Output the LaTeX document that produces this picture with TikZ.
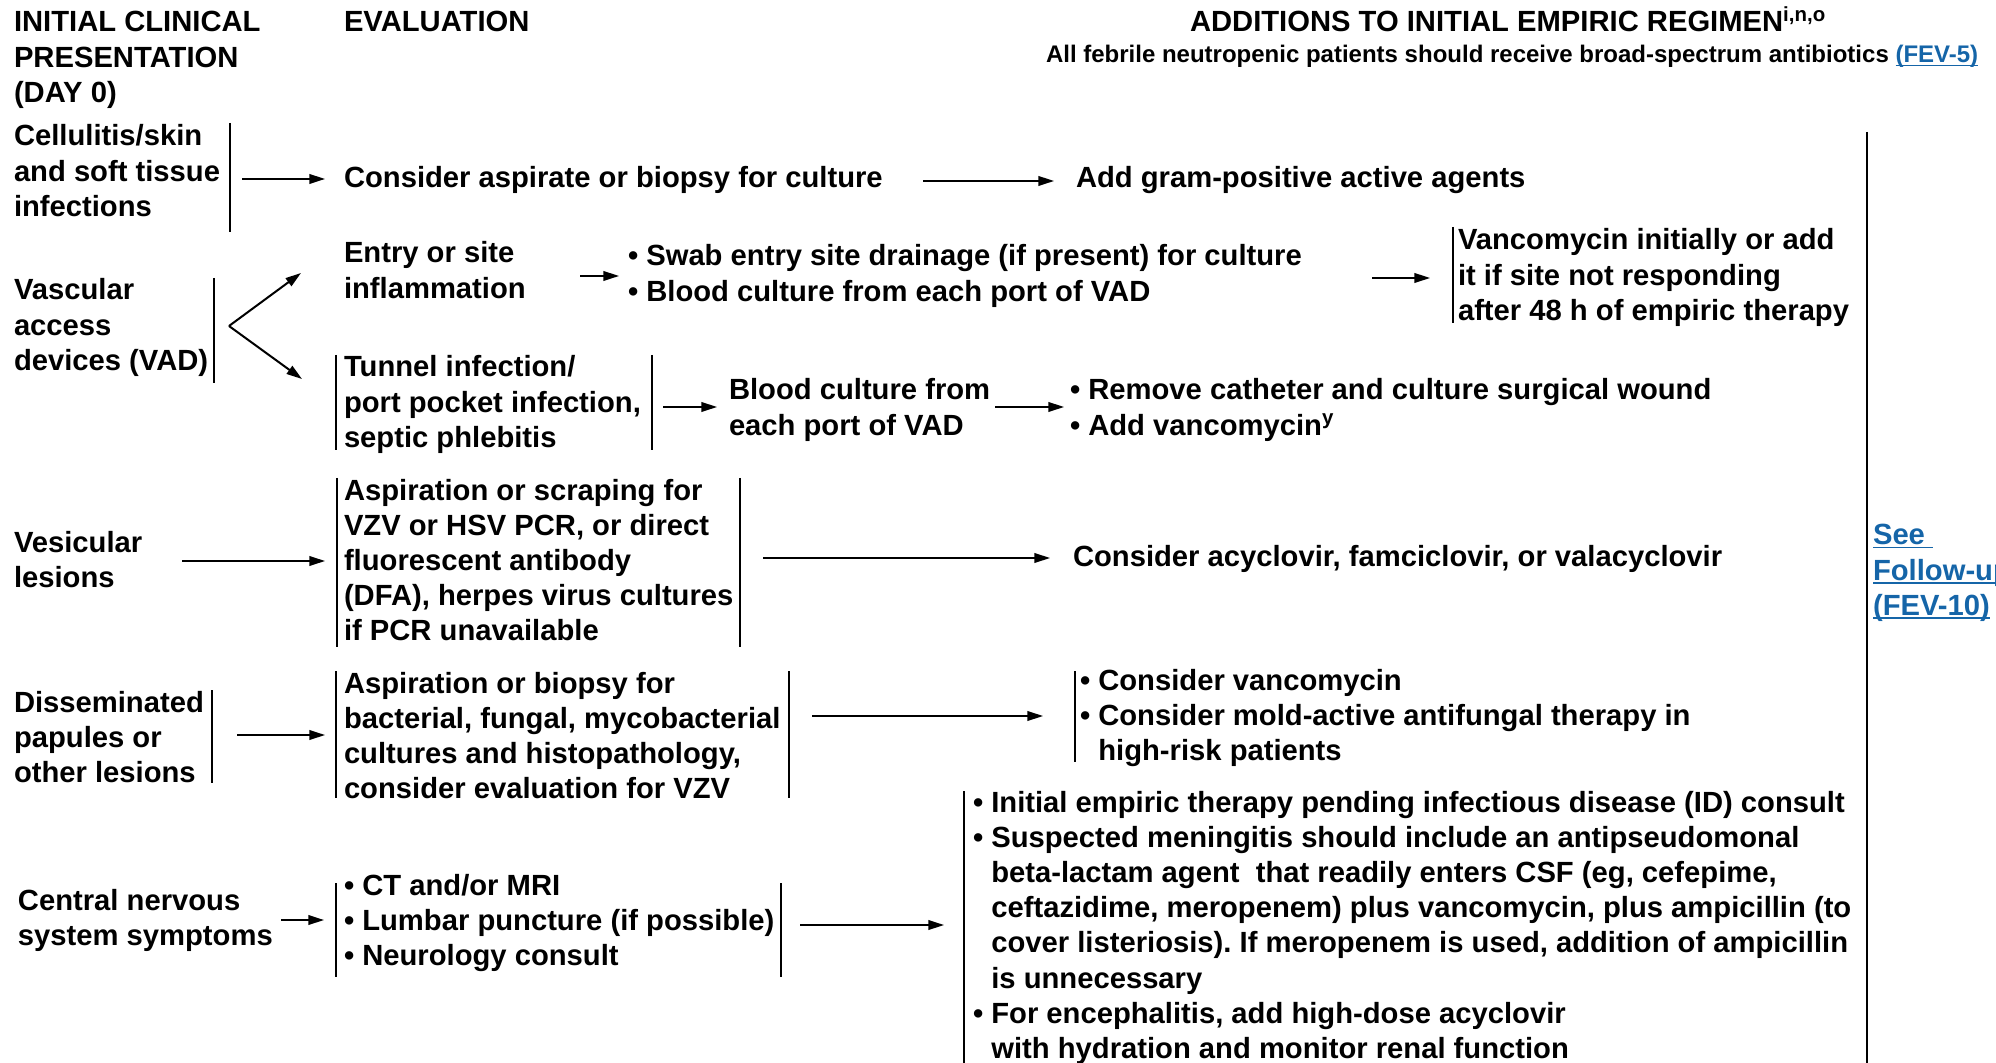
\documentclass[tikz,border=0pt]{standalone}
\usepackage{fontspec}
\setmainfont{Liberation Sans}
\usetikzlibrary{arrows.meta}
\definecolor{linkblue}{RGB}{21,101,168}
\frenchspacing
\newcommand{\bul}{\textbullet\ }
\newcommand{\ind}{\phantom{\textbullet\ }}
\newsavebox{\lnkbox}
\newcommand{\lnk}[1]{\sbox{\lnkbox}{#1}\rlap{\rule[-1.7pt]{\wd\lnkbox}{0.75pt}}\usebox{\lnkbox}}
\begin{document}
\begin{tikzpicture}[x=0.5pt,y=-0.5pt,
  txt/.style={inner sep=0pt, outer sep=0pt, anchor=base west, align=left, font=\fontsize{14.6}{17.6}\selectfont\bfseries},
  bar/.style={line width=1pt},
  arr/.style={line width=1pt, -{Triangle[length=7.8pt,width=4.8pt]}},
]
\useasboundingbox (0,0) rectangle (1996,1063);
\clip (0,0) rectangle (1996,1063);

% headers (node positions are at the baseline of the LAST line; line pitch 35.2)
\node[txt] (hpres) at (14,32+2*35.2) {INITIAL CLINICAL\\PRESENTATION\\(DAY 0)};
\node[txt] (heval) at (344,32) {EVALUATION};
\node[txt] (hadd) at (1190,32) {ADDITIONS TO INITIAL EMPIRIC REGIMEN\textsuperscript{i,n,o}};
\node[txt, font=\fontsize{12}{14}\selectfont\bfseries] (hsub) at (1046,63) {All febrile neutropenic patients should receive broad-spectrum antibiotics \textcolor{linkblue}{\lnk{(FEV-5)}}};

% row 1
\node[txt] (cell) at (14,146+2*35.2) {Cellulitis/skin\\and soft tissue\\infections};
\draw[bar] (230,123) -- (230,232);
\coordinate (c1a) at (242,179); \coordinate (c1b) at (325,179);
\draw[arr] (c1a) -- (c1b);
\node[txt] (cellev) at (344,188) {Consider aspirate or biopsy for culture};
\coordinate (c2a) at (923,181); \coordinate (c2b) at (1054,181);
\draw[arr] (c2a) -- (c2b);
\node[txt] (cellad) at (1076,188) {Add gram-positive active agents};

% row 2
\node[txt] (vad) at (14,300+2*35.2) {Vascular\\access\\devices (VAD)};
\draw[bar] (214,278) -- (214,383);
\coordinate (v0) at (229,326); \coordinate (v1) at (301,273); \coordinate (v2) at (302,379);
\draw[arr] (v0) -- (v1);
\draw[arr] (v0) -- (v2);
\node[txt] (entry) at (344,263+35.2) {Entry or site\\inflammation};
\coordinate (e1a) at (580,276); \coordinate (e1b) at (619,276);
\draw[arr] (e1a) -- (e1b);
\node[txt] (swab) at (628,266+35.2) {\bul Swab entry site drainage (if present) for culture\\\bul Blood culture from each port of VAD};
\coordinate (e2a) at (1372,278); \coordinate (e2b) at (1430,278);
\draw[arr] (e2a) -- (e2b);
\draw[bar] (1453,227) -- (1453,323);
\node[txt] (vanc) at (1458,250+2*35.2) {Vancomycin initially or add\\it if site not responding\\after 48 h of empiric therapy};
\draw[bar] (336,355) -- (336,450);
\node[txt] (tunnel) at (344,377+2*35.2) {Tunnel infection/\\port pocket infection,\\septic phlebitis};
\draw[bar] (652,355) -- (652,450);
\coordinate (t1a) at (663,407); \coordinate (t1b) at (717,407);
\draw[arr] (t1a) -- (t1b);
\node[txt] (bcult) at (729,400+35.2) {Blood culture from\\each port of VAD};
\coordinate (t2a) at (995,407); \coordinate (t2b) at (1064,407);
\draw[arr] (t2a) -- (t2b);
\node[txt] (remove) at (1070,400+35.2) {\bul Remove catheter and culture surgical wound\\\bul Add vancomycin\textsuperscript{y}};

% row 3
\node[txt] (ves) at (14,552+35.2) {Vesicular\\lesions};
\coordinate (s1a) at (182,561); \coordinate (s1b) at (325,561);
\draw[arr] (s1a) -- (s1b);
\draw[bar] (337,478) -- (337,647);
\node[txt] (vesev) at (344,500+4*35.2) {Aspiration or scraping for\\VZV or HSV PCR, or direct\\fluorescent antibody\\(DFA), herpes virus cultures\\if PCR unavailable};
\draw[bar] (740,478) -- (740,647);
\coordinate (s2a) at (763,558); \coordinate (s2b) at (1050,558);
\draw[arr] (s2a) -- (s2b);
\node[txt] (vesad) at (1073,567) {Consider acyclovir, famciclovir, or valacyclovir};

% row 4
\node[txt] (diss) at (14,712+2*35.2) {Disseminated\\papules or\\other lesions};
\draw[bar] (212,690) -- (212,783);
\coordinate (d1a) at (237,735); \coordinate (d1b) at (325,735);
\draw[arr] (d1a) -- (d1b);
\draw[bar] (336,671) -- (336,798);
\node[txt] (dissev) at (344,693+3*35.2) {Aspiration or biopsy for\\bacterial, fungal, mycobacterial\\cultures and histopathology,\\consider evaluation for VZV};
\draw[bar] (789,671) -- (789,798);
\coordinate (d2a) at (812,716); \coordinate (d2b) at (1043,716);
\draw[arr] (d2a) -- (d2b);
\draw[bar] (1075,671) -- (1075,762);
\node[txt] (dissad) at (1080,690+2*35.2) {\bul Consider vancomycin\\\bul Consider mold-active antifungal therapy in\\\ind high-risk patients};

% row 5
\node[txt] (cns) at (18,910+35.2) {Central nervous\\system symptoms};
\coordinate (n1a) at (281,920); \coordinate (n1b) at (324,920);
\draw[arr] (n1a) -- (n1b);
\draw[bar] (336,883) -- (336,977);
\node[txt] (cnsev) at (344,895+2*35.2) {\bul CT and/or MRI\\\bul Lumbar puncture (if possible)\\\bul Neurology consult};
\draw[bar] (781,883) -- (781,977);
\coordinate (n2a) at (800,925); \coordinate (n2b) at (944,925);
\draw[arr] (n2a) -- (n2b);
\draw[bar] (964,791) -- (964,1063);
\node[txt] (cnsad) at (973,812+7*35.2) {\bul Initial empiric therapy pending infectious disease (ID) consult\\\bul Suspected meningitis should include an antipseudomonal\\\ind beta-lactam agent\ \ that readily enters CSF (eg, cefepime,\\\ind ceftazidime, meropenem) plus vancomycin, plus ampicillin (to\\\ind cover listeriosis). If meropenem is used, addition of ampicillin\\\ind is unnecessary\\\bul For encephalitis, add high-dose acyclovir\\\ind with hydration and monitor renal function};

% right column
\draw[bar, line width=1.3pt] (1867,132) -- (1867,1063);
\node[txt, text=linkblue] (see) at (1873,545+2*35.2) {\lnk{See\ }\\\lnk{Follow-up}\\\lnk{(FEV-10)}};
\end{tikzpicture}
\end{document}
